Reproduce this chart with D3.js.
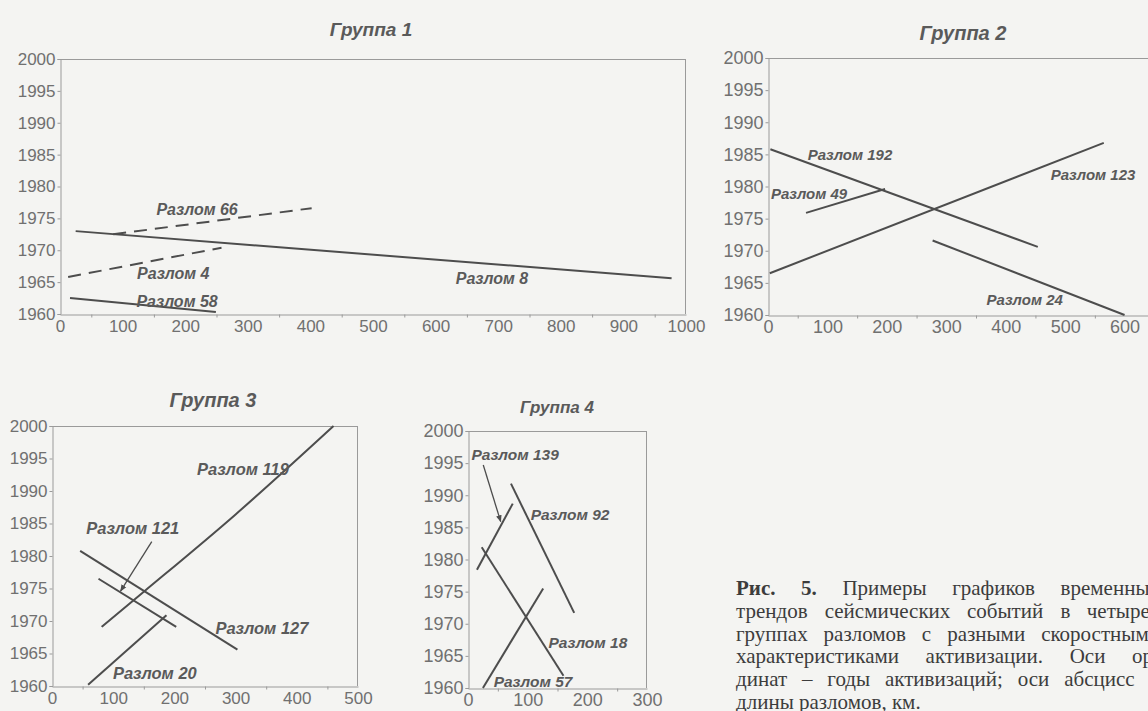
<!DOCTYPE html>
<html>
<head>
<meta charset="utf-8">
<script src="https://cdn.jsdelivr.net/npm/d3@7/dist/d3.min.js"></script>
<style>
  html, body { margin: 0; padding: 0; background: #f4f4f2; }
  svg { display: block; }
</style>
</head>
<body>
<svg id="fig" width="1148" height="711"></svg>
<script>
// ---- Data: fault trend lines, [length km, year] ----
const yearTicks = [1960, 1965, 1970, 1975, 1980, 1985, 1990, 1995, 2000];

const group1Km = [0, 100, 200, 300, 400, 500, 600, 700, 800, 900, 1000];
const group1Faults = ["Разлом 8", "Разлом 66", "Разлом 4", "Разлом 58"];
const group1Lines = [
  [[25, 1973.0], [977, 1965.6]],
  [[85, 1972.5], [402, 1976.6]],
  [[13, 1965.8], [258, 1970.4]],
  [[16, 1962.5], [249, 1960.3]]
];
const group1Dashed = [false, true, true, false];

const group2Km = [0, 100, 200, 300, 400, 500, 600];
const group2Faults = ["Разлом 192", "Разлом 123", "Разлом 49", "Разлом 24"];
const group2Lines = [
  [[4, 1985.8], [454, 1970.6]],
  [[3, 1966.5], [565, 1986.8]],
  [[64, 1975.9], [197, 1979.6]],
  [[277, 1971.6], [600, 1960.0]]
];

const group3Km = [0, 100, 200, 300, 400, 500];
const group3Faults = ["Разлом 119", "Разлом 121", "Разлом 127", "Разлом 20"];
const group3Lines = [
  [[81, 1969.1], [150, 1974.5], [300, 1986.4], [460, 2000.0]],
  [[76, 1976.5], [203, 1969.1]],
  [[46, 1980.8], [303, 1965.6]],
  [[59, 1960.2], [187, 1970.9]]
];

const group4Km = [0, 100, 200, 300];
const group4Faults = ["Разлом 139", "Разлом 92", "Разлом 18", "Разлом 57"];
const group4Lines = [
  [[15, 1978.4], [75, 1988.7]],
  [[72, 1991.8], [178, 1971.7]],
  [[23, 1981.9], [160, 1961.9]],
  [[25, 1960.0], [126, 1975.5]]
];

const captionLines = [
  "Рис. 5. Примеры графиков временных",
  "трендов сейсмических событий в четырех",
  "группах разломов с разными скоростными",
  "характеристиками активизации. Оси ор-",
  "динат – годы активизаций; оси абсцисс –",
  "длины разломов, км."
];

// ---- Layout: panel boxes (px), label anchors and arrows (data units) ----
const panels = [
  { title: "Группа 1", box: [60, 59, 686, 314], xMax: 1000, km: group1Km,
    faults: group1Faults, lines: group1Lines, dashed: group1Dashed,
    titleXY: [371, 36], titleSize: 19, tickSize: 17, labelSize: 16,
    labelAt: [[690, 1965.6], [219, 1976.4], [181, 1966.4], [187, 1961.9]],
    arrows: [] },
  { title: "Группа 2", box: [768, 58, 1184, 315], xMax: 700, km: group2Km,
    faults: group2Faults, lines: group2Lines, dashed: [],
    titleXY: [963, 40], titleSize: 20, tickSize: 18, labelSize: 15,
    labelAt: [[138, 1984.9], [547, 1981.9], [69, 1978.8], [432, 1962.3]],
    arrows: [] },
  { title: "Группа 3", box: [52, 426, 358, 686], xMax: 500, km: group3Km,
    faults: group3Faults, lines: group3Lines, dashed: [],
    titleXY: [213, 407], titleSize: 20, tickSize: 17, labelSize: 16.5,
    labelAt: [[312, 1993.3], [132, 1984.3], [343, 1968.9], [168, 1962.0]],
    arrows: [[[163, 1982.2], [112, 1974.6]]] },
  { title: "Группа 4", box: [468, 431, 647, 688], xMax: 300, km: group4Km,
    faults: group4Faults, lines: group4Lines, dashed: [],
    titleXY: [557, 413], titleSize: 17, tickSize: 18, labelSize: 15.5,
    labelAt: [[79, 1996.4], [171, 1987.0], [201, 1967.1], [109, 1961.0]],
    arrows: [[[25.6, 1994.7], [54.8, 1985.9]]] }
];

const inkLine = "#4d4d4d";
const inkText = "#5a5a5a";
const inkAxis = "#9a9a9a";
const inkTick = "#707070";
const sans = "'Liberation Sans', Arial, sans-serif";

const svg = d3.select("#fig");

svg.append("defs").append("marker")
  .attr("id", "arrowHead")
  .attr("viewBox", "0 0 10 10")
  .attr("refX", 9).attr("refY", 5)
  .attr("markerWidth", 7).attr("markerHeight", 7)
  .attr("markerUnits", "userSpaceOnUse")
  .attr("orient", "auto")
  .append("path").attr("d", "M0,1 L10,5 L0,9 Z").attr("fill", inkLine);

panels.forEach(p => {
  const [x0, y0, x1, y1] = p.box;
  const x = d3.scaleLinear().domain([0, p.xMax]).range([x0, x1]);
  const y = d3.scaleLinear().domain([1960, 2000]).range([y1, y0]);
  const g = svg.append("g");

  // title
  g.append("text")
    .attr("x", p.titleXY[0]).attr("y", p.titleXY[1])
    .attr("text-anchor", "middle")
    .attr("font-family", sans).attr("font-weight", "bold").attr("font-style", "italic")
    .attr("font-size", p.titleSize).attr("fill", inkText)
    .text(p.title);

  // plot frame (top and right edges)
  const frame = g.append("g").attr("stroke", inkAxis).attr("stroke-width", 1).attr("fill", "none");
  frame.append("line").attr("x1", x0).attr("x2", x1).attr("y1", y0 + 0.5).attr("y2", y0 + 0.5);
  frame.append("line").attr("x1", x1 - 0.5).attr("x2", x1 - 0.5).attr("y1", y0).attr("y2", y1);

  // y axis
  const yAxis = g.append("g").attr("transform", `translate(${x0 + 0.5},0)`)
    .call(d3.axisLeft(y).tickValues(yearTicks).tickFormat(d3.format("d")).tickSize(3).tickPadding(2));
  // x axis: labels at hundreds, minor ticks between them
  const xAxis = g.append("g").attr("transform", `translate(0,${y1 + 0.5})`)
    .call(d3.axisBottom(x).tickValues(p.km).tickFormat(d3.format("d")).tickSize(0).tickPadding(5));
  const mids = d3.range(50, p.xMax, 100);
  g.append("g").attr("transform", `translate(0,${y1 + 0.5})`)
    .call(d3.axisBottom(x).tickValues(mids).tickFormat("").tickSize(3))
    .call(a => a.select(".domain").remove());

  [yAxis, xAxis].forEach(a => {
    a.selectAll("text").attr("font-family", sans).attr("font-size", p.tickSize).attr("fill", inkTick);
  });
  g.selectAll(".domain").attr("stroke", inkAxis);
  g.selectAll(".tick line").attr("stroke", inkAxis);

  // fault trend lines
  const line = d3.line().x(d => x(d[0])).y(d => y(d[1]))
    .curve(d3.curveMonotoneX);
  p.lines.forEach((pts, i) => {
    g.append("path")
      .attr("d", line(pts))
      .attr("fill", "none")
      .attr("stroke", inkLine)
      .attr("stroke-width", 2)
      .attr("stroke-dasharray", p.dashed[i] ? "13,8" : null);
  });

  // pointer arrows
  p.arrows.forEach(a => {
    g.append("line")
      .attr("x1", x(a[0][0])).attr("y1", y(a[0][1]))
      .attr("x2", x(a[1][0])).attr("y2", y(a[1][1]))
      .attr("stroke", inkLine).attr("stroke-width", 1.3)
      .attr("marker-end", "url(#arrowHead)");
  });

  // fault labels
  p.faults.forEach((name, i) => {
    g.append("text")
      .attr("x", x(p.labelAt[i][0])).attr("y", y(p.labelAt[i][1]))
      .attr("dy", "0.35em")
      .attr("text-anchor", "middle")
      .attr("font-family", sans).attr("font-weight", "bold").attr("font-style", "italic")
      .attr("font-size", p.labelSize).attr("fill", inkText)
      .text(name);
  });
});

// ---- Caption, justified; runs past the right edge of the page ----
const capLeft = 736, capWidth = 424, capTop = 595, capStep = 22.8, capSize = 21;
const cap = svg.append("g")
  .attr("font-family", "'Liberation Serif', 'Times New Roman', serif")
  .attr("font-size", capSize)
  .attr("fill", "#3c3c3c");

captionLines.forEach((ln, li) => {
  const words = ln.split(" ");
  const t = cap.append("text").attr("y", capTop + li * capStep);
  const spans = words.map((w, wi) =>
    t.append("tspan")
      .attr("font-weight", li === 0 && wi < 2 ? "bold" : null)
      .text(w));
  const widths = spans.map(s => s.node().getComputedTextLength());
  const total = d3.sum(widths);
  const last = li === captionLines.length - 1;
  const gap = last ? capSize * 0.25 : Math.max(capSize * 0.22, (capWidth - total) / (words.length - 1));
  let cx = capLeft;
  spans.forEach((s, i) => { s.attr("x", cx); cx += widths[i] + gap; });
});
</script>
</body>
</html>
